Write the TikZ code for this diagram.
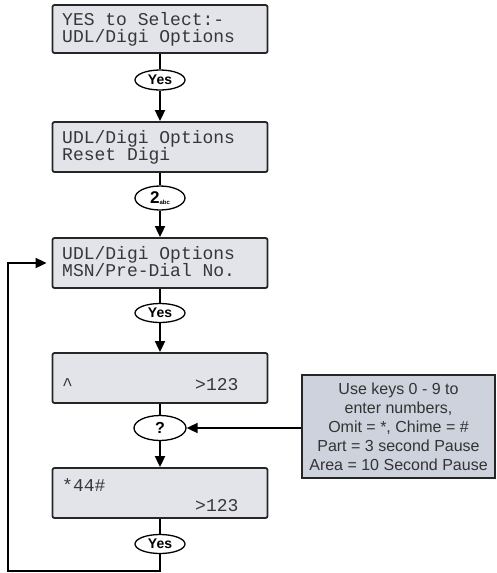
\documentclass[tikz,border=0pt]{standalone}
\usepackage{fontspec}
\setmainfont{Liberation Sans}
\newfontfamily\lcdfont{Liberation Mono}
\usetikzlibrary{arrows.meta,shapes.geometric}
\definecolor{lcdfill}{RGB}{226,228,234}
\definecolor{infofill}{RGB}{205,210,220}
\definecolor{lcdtext}{RGB}{55,55,55}
\begin{document}
\begin{tikzpicture}[x=1pt,y=-1pt,
  lcdbox/.style={draw=black!85, line width=1.8pt, fill=lcdfill, rounded corners=2pt,
    minimum width=215pt, minimum height=50pt, inner sep=0pt},
  keyell/.style={draw=black, line width=1.3pt, ellipse, fill=white,
    minimum width=50pt, minimum height=20pt, inner sep=0pt,
    font=\bfseries\fontsize{14}{14}\selectfont},
  lcdtxt/.style={anchor=base west, inner sep=0pt, text=lcdtext,
    font=\lcdfont\fontsize{18}{18}\selectfont},
  infobox/.style={draw=black!85, line width=1.8pt, fill=infofill,
    minimum width=193pt, minimum height=103pt, inner sep=0pt, align=center,
    font=\fontsize{16}{19}\selectfont, text=black!80},
  conn/.style={line width=1.8pt},
  arr/.style={conn, -{Triangle[width=10pt,length=11pt]}}]
\useasboundingbox (0,0) rectangle (497,573);

% LCD boxes
\node[lcdbox, minimum height=48pt] (b1) at (160,29) {};
\node[lcdbox] (b2) at (160,147) {};
\node[lcdbox] (b3) at (160,263) {};
\node[lcdbox] (b4) at (160,378) {};
\node[lcdbox] (b5) at (160,493) {};

% LCD texts
\node[lcdtxt] (t1a) at (62,25) {YES to Select:-};
\node[lcdtxt] (t1b) at (62,42) {UDL/Digi Options};
\node[lcdtxt] (t2a) at (62,143) {UDL/Digi Options};
\node[lcdtxt] (t2b) at (62,160) {Reset Digi};
\node[lcdtxt] (t3a) at (62,259) {UDL/Digi Options};
\node[lcdtxt] (t3b) at (62,276) {MSN/Pre-Dial No.};
\node[lcdtxt] (t4a) at (62,390) {\textasciicircum};
\node[lcdtxt] (t4b) at (195,390) {>123};
\node[lcdtxt] (t5a) at (62,491) {*44\#};
\node[lcdtxt] (t5b) at (195,511) {>123};

% key ellipses
\node[keyell] (e1) at (160,80) {Yes};
\node[keyell, minimum height=24pt] (e2) at (160,198) {\fontsize{17}{17}\selectfont 2\raisebox{-1pt}{\fontsize{6}{6}\selectfont abc}};
\node[keyell, minimum height=19pt] (e3) at (160,313) {Yes};
\node[keyell, minimum width=52pt, minimum height=25pt, font=\bfseries\fontsize{16}{16}\selectfont] (e4) at (160,428) {?};
\node[keyell, minimum height=19pt] (e5) at (160,544) {Yes};

% info box
\node[infobox] (info) at (398.5,426.5) {Use keys 0 - 9 to\\enter numbers,\\Omit = *, Chime = \#\\Part = 3 second Pause\\Area = 10 Second Pause};

% connectors
\draw[conn] (b1.south) -- (e1.north);
\draw[arr] (e1.south) -- (b2.north);
\draw[conn] (b2.south) -- (e2.north);
\draw[arr] (e2.south) -- (b3.north);
\draw[conn] (b3.south) -- (e3.north);
\draw[arr] (e3.south) -- (b4.north);
\draw[conn] (b4.south) -- (e4.north);
\draw[arr] (e4.south) -- (b5.north);
\draw[conn] (b5.south) -- (e5.north);
\draw[arr] (info.west |- e4.east) -- (e4.east);

\coordinate (c1) at (8,571);
\draw[arr, shorten >=5pt] (e5.south) |- (c1) |- (b3.west);
\end{tikzpicture}
\end{document}
